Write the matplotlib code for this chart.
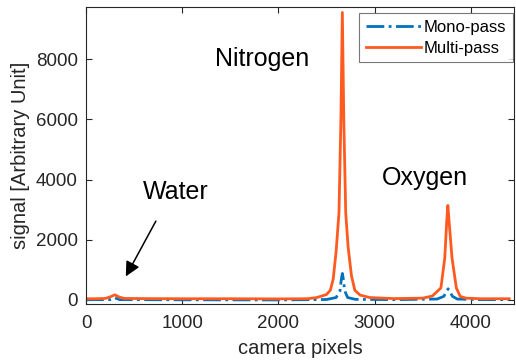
import matplotlib
matplotlib.use('Agg')
import matplotlib.pyplot as plt

# ---- data ----
multi_x = [0, 100, 200, 250, 300, 350, 400, 600, 1000, 1500, 2000, 2300,
           2400, 2500, 2540, 2570, 2600, 2630, 2650, 2665, 2680, 2700, 2725,
           2760, 2795, 2850, 2950, 3200, 3500, 3600, 3690, 3730, 3750, 3762,
           3775, 3805, 3850, 3890, 3950, 4100, 4400]
multi_y = [40, 40, 50, 100, 170, 90, 50, 45, 40, 40, 35, 40,
           80, 180, 320, 700, 1600, 2900, 6000, 9550, 6000, 2900, 1750,
           800, 320, 160, 80, 45, 60, 130, 400, 1400, 2600, 3140,
           2600, 1400, 400, 120, 60, 40, 40]

mono_x = [0, 250, 300, 350, 1000, 2000, 2500, 2600, 2640, 2655, 2665, 2675,
          2690, 2720, 2800, 3200, 3650, 3720, 3765, 3810, 3860, 4100, 4400]
mono_y = [10, 10, 70, 10, 5, 0, 15, 80, 300, 700, 880, 700,
          300, 80, 20, 10, 30, 120, 370, 120, 30, 10, 10]

labels = ['Mono-pass', 'Multi-pass']
x_ticks = [0, 1000, 2000, 3000, 4000]
y_ticks = [0, 2000, 4000, 6000, 8000]

COLOR_MONO = '#0072BD'
COLOR_MULTI = '#FF5A1F'
COLOR_TEXT = '#262626'

plt.rcParams['font.family'] = ['Liberation Sans', 'DejaVu Sans']

fig = plt.figure(figsize=(5.16, 3.63), dpi=100)
ax = fig.add_axes([0.1667, 0.1625, 0.8295, 0.8185])

ax.plot(mono_x, mono_y, linestyle='-.', color=COLOR_MONO, lw=2, label=labels[0])
ax.plot(multi_x, multi_y, linestyle='-', color=COLOR_MULTI, lw=2, label=labels[1])

ax.set_xlim(0, 4450)
ax.set_ylim(-135, 9735)
ax.set_xticks(x_ticks)
ax.set_yticks(y_ticks)
ax.tick_params(direction='in', top=True, right=True, labelsize=13.5,
               colors=COLOR_TEXT, length=4)
ax.tick_params(axis='x', pad=8)
ax.tick_params(axis='y', pad=6)
for s in ax.spines.values():
    s.set_color(COLOR_TEXT)
    s.set_linewidth(0.8)

ax.set_xlabel('camera pixels', fontsize=14.5, color=COLOR_TEXT, labelpad=5)
ax.set_ylabel('signal [Arbitrary Unit]', fontsize=14.5, color=COLOR_TEXT, labelpad=4)

ax.text(1828, 7990, 'Nitrogen', fontsize=18, ha='center', va='center', color='black')
ax.text(3520, 4050, 'Oxygen', fontsize=18, ha='center', va='center', color='black')
ax.text(935, 3580, 'Water', fontsize=18, ha='center', va='center', color='black')
ax.annotate('', xy=(400, 700), xytext=(740, 2700),
            arrowprops=dict(arrowstyle='-|>', color='black', lw=1.1,
                            mutation_scale=22))

leg = ax.legend(loc='upper right', bbox_to_anchor=(513 / 516, 1 - 13 / 363),
                bbox_transform=fig.transFigure, borderaxespad=0,
                fontsize=12, frameon=True, fancybox=False,
                handlelength=3.3, handletextpad=0.2,
                labelspacing=0.35, borderpad=0.4)
leg.get_frame().set_edgecolor('#555555')
leg.get_frame().set_linewidth(0.8)

fig.savefig('out.png', dpi=100, facecolor='white')
